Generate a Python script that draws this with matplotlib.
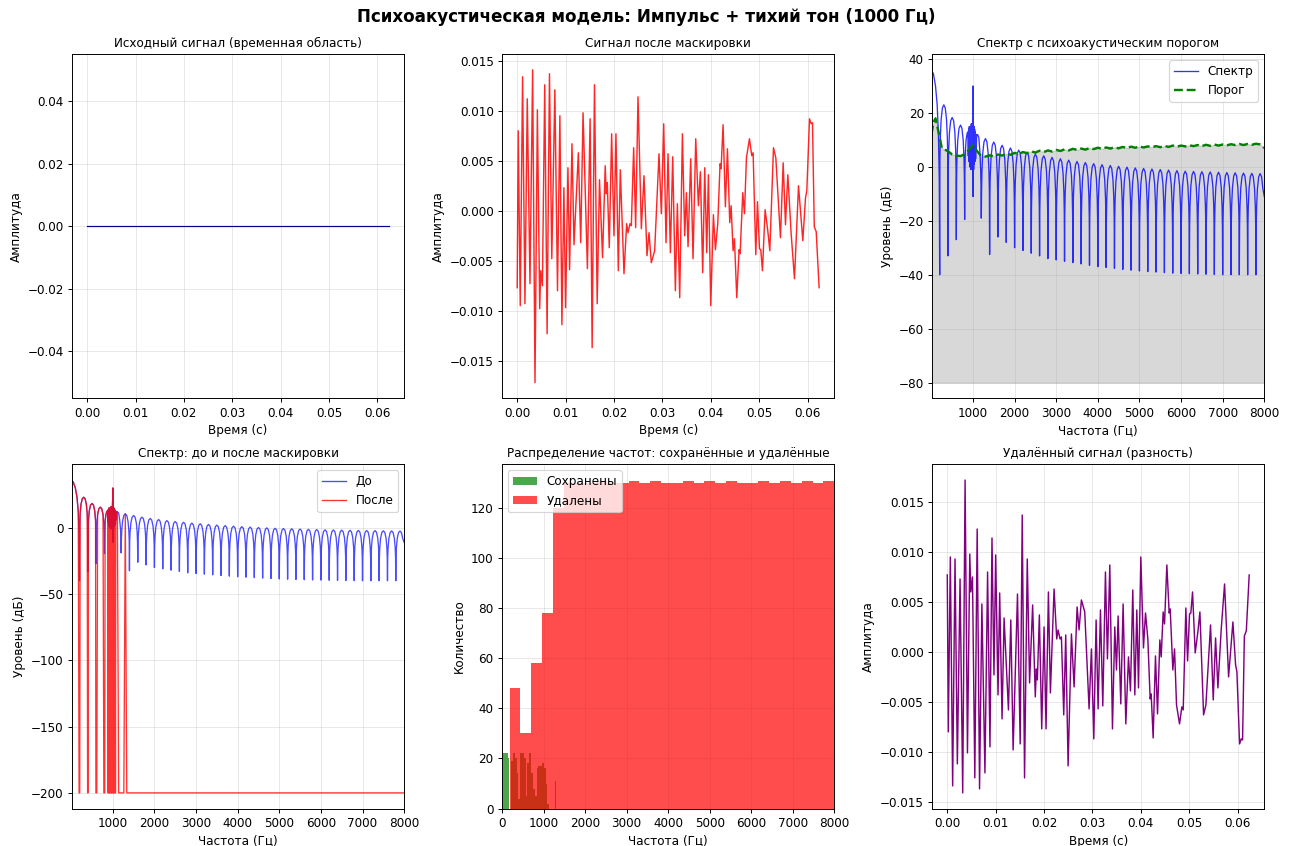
import numpy as np
import matplotlib.pyplot as plt

# ---------- временные сигналы (время в мс) ----------
ORIG_T_MS = [0.0, 62.4]
ORIG_V = [0.0, 0.0]

MASKED_T_MS = [
    0.0, 0.21, 0.63, 1.11, 1.60, 2.08, 2.64, 3.19, 3.68, 4.17, 4.65, 4.86, 5.21,
    5.69, 6.18, 6.67, 7.15, 7.78, 8.33, 8.82, 9.24, 9.65, 10.0, 10.49, 10.83,
    11.32, 11.74, 12.64, 13.13, 13.61, 14.51, 15.07, 15.49, 15.97, 16.53, 17.01,
    17.64, 18.19, 18.41, 18.62, 19.03, 19.52, 20.0, 20.41, 20.90, 21.31, 22.07,
    22.62, 22.90, 23.31, 23.59, 24.07, 24.48, 24.97, 25.66, 26.21, 26.83, 27.24,
    27.72, 28.41, 29.31, 29.79, 30.28, 30.76, 31.17, 31.66, 32.14, 32.69, 33.10,
    33.59, 34.14, 34.62, 34.97, 35.31, 35.86, 36.34, 36.90, 37.45, 37.86, 38.34,
    38.76, 39.17, 39.52, 40.0, 40.55, 40.97, 41.45, 41.93, 42.14, 42.55, 43.03,
    43.45, 43.93, 44.21, 44.62, 44.90, 45.38, 45.86, 46.07, 46.62, 46.97, 47.38,
    48.0, 48.48, 48.76, 49.31, 49.66, 50.07, 50.34, 50.69, 51.24, 51.79, 52.21,
    52.97, 53.45, 54.41, 54.97, 55.45, 55.93, 56.62, 57.31, 58.14, 59.03, 59.59,
    59.86, 60.41, 60.76, 61.03, 61.4, 61.8, 62.4,
]
MASKED_V = [
    -0.0077, 0.0080, -0.0095, 0.0134, -0.0093, 0.0112, -0.0073, 0.0141, -0.0172,
    0.0101, -0.0098, -0.0060, -0.0075, 0.0126, -0.0123, 0.0137, -0.0048, 0.0121,
    -0.0080, 0.0095, -0.0114, 0.0023, -0.0097, 0.0043, -0.0059, 0.0067, -0.0034,
    0.0058, -0.0032, 0.0098, -0.0058, 0.0092, -0.0137, 0.0126, -0.0093, 0.0031,
    -0.0047, 0.0045, 0.0017, 0.0028, -0.0037, 0.0077, -0.0025, 0.0077, -0.0060,
    0.0041, -0.0063, -0.0013, -0.0022, -0.0013, -0.0015, 0.0063, -0.0017, 0.0114,
    -0.0018, 0.0035, -0.0045, -0.0022, -0.0052, -0.0040, 0.0057, -0.0003, 0.0087,
    -0.0032, 0.0057, -0.0042, 0.0054, -0.0080, 0.0007, -0.0087, 0.0077, -0.0025,
    0.0018, -0.0036, 0.0052, -0.0048, 0.0072, 0.0005, 0.0039, -0.0062, 0.0043,
    -0.0042, 0.0036, -0.0095, -0.0004, -0.0039, -0.0013, 0.0047, 0.0042, 0.0086,
    0.0004, 0.0062, -0.0012, 0.0005, -0.0040, -0.0028, -0.0087, -0.0039, -0.0043,
    0.0018, -0.0003, 0.0053, 0.0072, 0.0055, 0.0058, -0.0044, 0.0009, -0.0038,
    -0.0039, -0.0060, 0.0001, -0.0020, -0.0040, 0.0063, 0.0053, -0.0027, 0.0048,
    -0.0014, 0.0036, -0.0023, -0.0068, 0.0025, -0.0030, 0.0013, 0.0020, 0.0092,
    0.0087, 0.0088, -0.0016, -0.0021, -0.0077,
]

# ---------- спектр (дБ) ----------
MAIN_LOBE_F = [0, 50, 100, 140, 170, 190]
MAIN_LOBE_DB = [36, 34.5, 30, 23, 12, -5]

# нули гребёнки: 200, 400, ..., 7800 Гц
NULL_F = list(range(200, 7801, 200))
NULL_DB = [-40, -33, -27, -19.5, -11, -19, -32.5, -26, -28, -30, -31, -32, -33,
           -34, -34.5, -35, -35.5, -36, -36.5, -37, -37.3, -37.6, -38, -38.3,
           -38.6, -38.8, -39, -39.2, -39.4, -39.5, -39.6, -39.7, -39.8, -39.9,
           -40, -40, -40, -40, -40]
# вершины лепестков: 300, 500, ..., 7900 Гц
PEAK_DB = [23, 18.3, 15.5, 13, 12, 10.5, 9.2, 8, 7, 6.2, 5.4, 4.7, 4.1, 3.5,
           3.0, 2.5, 2.0, 1.6, 1.2, 0.8, 0.5, 0.2, -0.1, -0.4, -0.6, -0.8, -1.0,
           -1.2, -1.4, -1.6, -1.7, -1.8, -1.9, -2.0, -2.1, -2.2, -2.3, -2.4, -2.5]
# форма одного лепестка (смещение от нуля, спад от вершины)
LOBE_OFFSET_HZ = [6, 15, 35, 65, 100, 135, 165, 185, 194]
LOBE_DROP_DB = [-20, -12.5, -5.5, -1.2, 0, -1.2, -5.5, -12.5, -20]
END_F, END_DB = 8000, -11

# область тона 1000 Гц (800-1200 Гц)
TONE_F = [806, 815, 835, 860, 880, 888, 896, 904, 912, 920, 928, 936, 944, 952,
          960, 968, 976, 984, 992, 998, 1000, 1002, 1008, 1016, 1024, 1032, 1040,
          1048, 1056, 1064, 1072, 1080, 1090, 1110, 1140, 1165, 1185, 1194]
TONE_DB = [-2, 5, 10, 12.5, 13, 4, 14, 2, 15, 0, 14, 1, 15, -1, 16, 0, 15, 2, 18,
           22, 30, -11, 20, -1, 15, 1, 14, 2, 13, 3, 12, 6, 12, 12, 11, 6, -1, -8]

THR_LOW_F = [0, 50, 100, 150, 200, 250, 300, 350, 400, 500, 600, 700, 800, 900,
             1000, 1100, 1200]
THR_LOW_DB = [12, 16.5, 18, 14.5, 11, 7, 6.5, 6.2, 5.8, 4.6, 4.2, 4.0, 4.7, 6.3,
              8.0, 5.8, 4.0]
THR_HIGH_F = list(range(1300, 8001, 100))
THR_HIGH_DB = [3.8, 4.3, 3.9, 4.6, 4.2, 4.9, 4.5,
               5.2, 4.8, 5.5, 5.1, 5.8, 5.3, 6.0, 5.5, 6.1, 5.7,
               6.3, 5.9, 6.5, 6.1, 6.7, 6.3, 6.8, 6.4, 7.0, 6.6,
               7.1, 6.7, 7.2, 6.8, 7.3, 6.9, 7.4, 7.0, 7.5, 7.1,
               7.6, 7.2, 7.6, 7.3, 7.7, 7.3, 7.8, 7.4, 7.9, 7.5,
               7.9, 7.6, 8.0, 7.7, 8.1, 7.7, 8.2, 7.8, 8.3, 7.9,
               8.3, 8.0, 8.4, 8.1, 8.5, 8.1, 8.5, 8.2, 8.6, 8.3,
               7.0]

# полосы, сохранённые после маскировки
KEPT_BANDS = [(0, 1120), (1290, 1310)]
KEEP_MIN_DB = 4
FLOOR_DB = -200

# ---------- гистограммы ----------
KEPT_EDGES = np.linspace(0, 1310, 31)
KEPT_COUNTS = [22, 22, 22, 20, 0, 19, 22, 20, 14, 4, 22, 22, 20, 5, 18, 22, 14,
               8, 5, 16, 17, 17, 18, 16, 10, 2, 0, 0, 0, 11]
REMOVED_EDGES = np.linspace(179, 8000, 31)
REMOVED_COUNTS = [48, 30, 58, 78, 120, 130, 130, 130, 131, 130, 130, 131, 130,
                  131, 130, 130, 131, 130, 131, 130, 131, 130, 130, 131, 130,
                  131, 130, 131, 130, 131]


def build_spectrum():
    f = list(MAIN_LOBE_F)
    db = list(MAIN_LOBE_DB)
    for i, (nf, nd) in enumerate(zip(NULL_F, NULL_DB)):
        if nf == 1000:
            continue
        f.append(nf)
        db.append(nd)
        if nf == 800:
            f += TONE_F
            db += TONE_DB
            continue
        last = i == len(NULL_F) - 1
        for off, drop in zip(LOBE_OFFSET_HZ, LOBE_DROP_DB):
            if last and off > 165:
                break
            f.append(nf + off)
            db.append(PEAK_DB[i] + drop)
    f.append(END_F)
    db.append(END_DB)
    return np.array(f, float), np.array(db, float)


freqs, spec_db = build_spectrum()
kept = np.zeros_like(freqs, dtype=bool)
for lo, hi in KEPT_BANDS:
    kept |= (freqs >= lo) & (freqs <= hi)
after_db = np.where(kept & (spec_db > KEEP_MIN_DB), spec_db, FLOOR_DB)

thr_f = np.array(THR_LOW_F + THR_HIGH_F, float)
thr_db = np.array(THR_LOW_DB + THR_HIGH_DB, float)

t_orig = np.array(ORIG_T_MS) / 1000
t_mask = np.array(MASKED_T_MS) / 1000
masked = np.array(MASKED_V)
removed = 0.0 - masked  # исходный сигнал равен нулю

fig, axes = plt.subplots(2, 3, figsize=(15, 846 / 86.2), dpi=86.2)
fig.subplots_adjust(left=0.0557, right=0.9778, top=0.936, bottom=0.0443,
                    wspace=0.295, hspace=0.192)
fig.suptitle('Психоакустическая модель: Импульс + тихий тон (1000 Гц)',
             fontsize=14, fontweight='bold', y=0.99)

TITLE_FS = 10

ax = axes[0, 0]
ax.plot(t_orig, ORIG_V, color='navy', linewidth=1)
ax.set_title('Исходный сигнал (временная область)', fontsize=TITLE_FS)
ax.set_xlabel('Время (с)')
ax.set_ylabel('Амплитуда')
ax.grid(True, alpha=0.3)

ax = axes[0, 1]
ax.plot(t_mask, masked, color='r', alpha=0.85, linewidth=1.2)
ax.set_title('Сигнал после маскировки', fontsize=TITLE_FS)
ax.set_xlabel('Время (с)')
ax.set_ylabel('Амплитуда')
ax.grid(True, alpha=0.3)

ax = axes[0, 2]
ax.plot(freqs, spec_db, color='b', alpha=0.8, linewidth=1.1, label='Спектр')
ax.plot(thr_f, thr_db, 'g--', linewidth=2, label='Порог')
ax.fill_between(thr_f, -80, thr_db, color='gray', alpha=0.3)
ax.set_xlim(20, 8000)
ax.set_title('Спектр с психоакустическим порогом', fontsize=TITLE_FS)
ax.set_xlabel('Частота (Гц)')
ax.set_ylabel('Уровень (дБ)')
ax.legend(loc='upper right')
ax.grid(True, alpha=0.3)

ax = axes[1, 0]
ax.plot(freqs, spec_db, color='b', alpha=0.7, linewidth=1.1, label='До')
ax.plot(freqs, after_db, color='r', alpha=0.8, linewidth=1.1, label='После')
ax.set_xlim(20, 8000)
ax.set_title('Спектр: до и после маскировки', fontsize=TITLE_FS)
ax.set_xlabel('Частота (Гц)')
ax.set_ylabel('Уровень (дБ)')
ax.legend(loc='upper right')
ax.grid(True, alpha=0.3)

ax = axes[1, 1]
ax.set_axisbelow(True)
ax.hist(KEPT_EDGES[:-1], bins=KEPT_EDGES, weights=KEPT_COUNTS, color='green',
        alpha=0.7, label='Сохранены')
ax.hist(REMOVED_EDGES[:-1], bins=REMOVED_EDGES, weights=REMOVED_COUNTS,
        color='red', alpha=0.7, label='Удалены')
ax.set_xlim(0, 8000)
ax.set_title('Распределение частот: сохранённые и удалённые', fontsize=TITLE_FS)
ax.set_xlabel('Частота (Гц)')
ax.set_ylabel('Количество')
ax.legend(loc='upper left')
ax.grid(True, alpha=0.3)

ax = axes[1, 2]
ax.plot(t_mask, removed, color='purple', linewidth=1.2)
ax.set_title('Удалённый сигнал (разность)', fontsize=TITLE_FS)
ax.set_xlabel('Время (с)')
ax.set_ylabel('Амплитуда')
ax.grid(True, alpha=0.3)

fig.savefig('out.png', dpi=86.2)
